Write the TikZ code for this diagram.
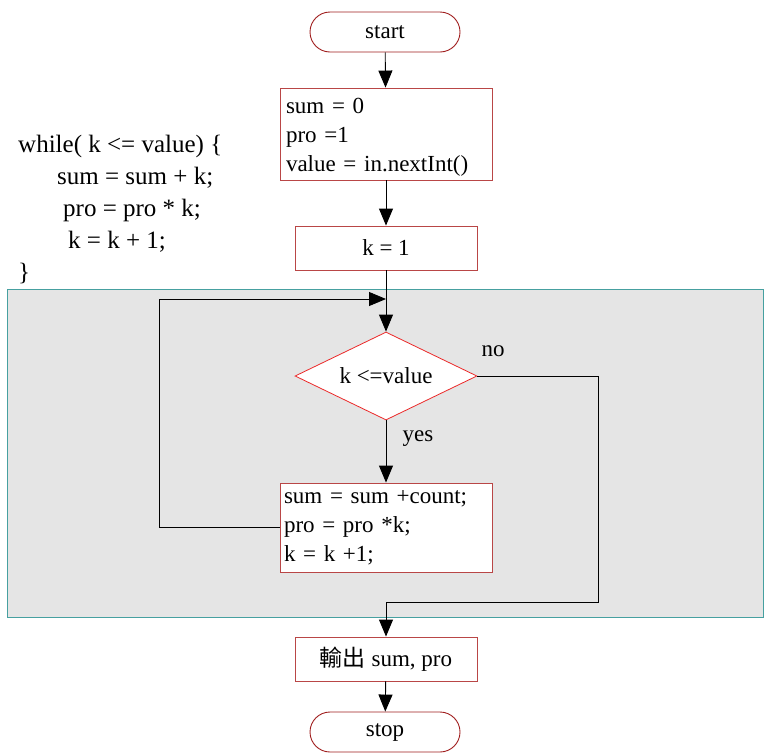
\documentclass[tikz,border=0pt]{standalone}
\usepackage{fontspec}
\setmainfont{Liberation Serif}
\newfontfamily\cjk{Noto Sans CJK TC}
\usetikzlibrary{shapes.geometric,arrows.meta}
\definecolor{dred}{RGB}{160,30,30}
\definecolor{bred}{RGB}{185,70,70}
\definecolor{rred}{RGB}{235,40,40}
\definecolor{teal2}{RGB}{70,160,160}
\definecolor{bgray}{RGB}{229,229,229}
\begin{document}
\begin{tikzpicture}[x=1pt,y=-1pt,
  font=\fontsize{23}{29}\selectfont,
  term/.style={draw=dred,line width=0.9pt,fill=white,rounded corners=20pt,minimum width=150pt,minimum height=40pt,inner sep=0pt},
  procbox/.style={draw=bred,line width=0.9pt,fill=white,minimum width=182pt,minimum height=44pt,inner sep=0pt},
  multibox/.style={draw=bred,line width=0.9pt,fill=white,text width=200pt,align=left,inner xsep=6pt,inner ysep=0pt,minimum height=92pt},
  decis/.style={draw=rred,line width=0.8pt,fill=white,diamond,shape aspect=2,inner sep=0pt,minimum width=182pt,minimum height=88pt},
  conn/.style={line width=0.9pt,black},
  arr/.style={conn,-{Triangle[length=17pt,width=14pt]}},
  lbl/.style={inner sep=0pt}]
\useasboundingbox (0,0) rectangle (765,753);
% gray region
\node[draw=teal2,line width=1pt,fill=bgray,minimum width=756pt,minimum height=328pt,inner sep=0pt] (region) at (385,453) {};
% code
\node[lbl,anchor=north west,align=left,font=\fontsize{25}{32}\selectfont] (code) at (18,135)
 {while( k <= value) \{\\
 \hspace*{39pt}sum = sum + k;\\
 \hspace*{45pt}pro = pro * k;\\
 \hspace*{50pt}k = k + 1;\\
 \}};
% nodes
\node[term] (start) at (385,32) {start};
\node[multibox] (init) at (386,134) {\rule{0pt}{22pt}sum = 0\\pro =1\\value = in.nextInt()};
\node[procbox] (k1) at (386,248) {k = 1};
\node[decis] (cond) at (386,376) {k <=value};
\node[multibox,inner xsep=4pt,text width=204pt,minimum height=89pt] (body) at (386,527.5) {sum = sum +count;\\pro = pro *k;\\k = k +1;};
\node[procbox] (out) at (386,659) {{\cjk 輸出} sum, pro};
\node[term] (stop) at (385,732) {stop};
\node[lbl] (no) at (493,351) {no};
\node[lbl] (yes) at (418,439) {yes};
\coordinate (j) at (386,299);
\coordinate (nr1) at (598,376);
\coordinate (nr2) at (598,602);
\coordinate (nm) at (386,602);
\coordinate (ll) at (159,299);
% connectors
\draw[arr] (start) -- (init);
\draw[arr] (init) -- (k1);
\draw[arr] (k1) -- (cond);
\draw[arr] (cond) -- (body);
\draw[arr] (body.west) -| (ll) -- (j);
\draw[conn] (cond.east) -- (nr1) -- (nr2) -- (nm);
\draw[arr] (nm) -- (out);
\draw[arr] (out) -- (stop);
\end{tikzpicture}
\end{document}
